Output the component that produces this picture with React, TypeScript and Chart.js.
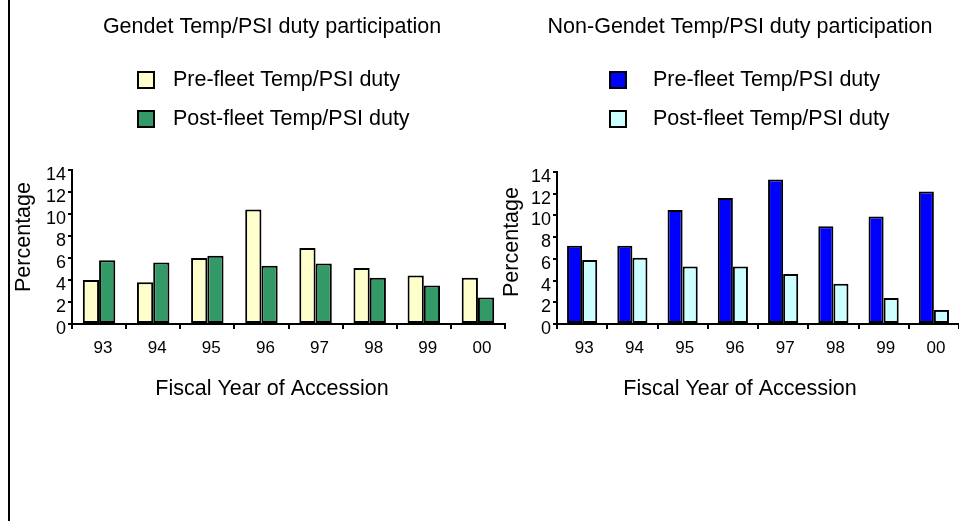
import React, { useEffect, useRef } from "react";
import { Chart, registerables } from "chart.js";

Chart.register(...registerables);

const categories = ["93", "94", "95", "96", "97", "98", "99", "00"];
const gendetPre = [4.0, 3.8, 6.0, 10.4, 6.9, 5.1, 4.4, 4.2];
const gendetPost = [5.8, 5.6, 6.2, 5.3, 5.5, 4.2, 3.5, 2.4];
const nonGendetPre = [7.2, 7.2, 10.5, 11.6, 13.3, 9.0, 9.9, 12.2];
const nonGendetPost = [5.9, 6.1, 5.3, 5.3, 4.6, 3.7, 2.4, 1.3];
const seriesLabels = ["Pre-fleet Temp/PSI duty", "Post-fleet Temp/PSI duty"];

const FONT = "'Liberation Sans', Arial, Helvetica, sans-serif";

const decorPlugin = {
  id: "decor",
  afterDraw(chart: any, _args: any, opts: any) {
    const ctx = chart.ctx;
    ctx.save();
    ctx.fillStyle = "#000";
    ctx.font = `${opts.fontSize}px ${FONT}`;
    ctx.textBaseline = "middle";
    ctx.textAlign = "center";
    ctx.fillText(opts.title, opts.titleX, opts.titleY);
    chart.data.datasets.forEach((ds: any, i: number) => {
      const y = opts.legendY[i];
      ctx.fillStyle = ds.backgroundColor;
      ctx.fillRect(opts.boxX, y - 8, 16, 16);
      ctx.lineWidth = 2;
      ctx.strokeStyle = "#000";
      ctx.strokeRect(opts.boxX, y - 8, 16, 16);
      ctx.fillStyle = "#000";
      ctx.textAlign = "left";
      ctx.fillText(ds.label, opts.textX, y);
    });
    ctx.textAlign = "center";
    ctx.fillText(opts.xTitle, opts.xTitleX, opts.xTitleY);
    ctx.translate(opts.yTitleX, opts.yTitleY);
    ctx.rotate(-Math.PI / 2);
    ctx.fillText(opts.yTitle, 0, 0);
    ctx.restore();
  },
};

function makeConfig(
  pre: number[],
  post: number[],
  colors: string[],
  layout: { yWidth: number; top: number; right: number; bottomH: number; xLabelShift: number },
  decor: any
): any {
  return {
    type: "bar",
    data: {
      labels: categories,
      datasets: [
        {
          label: seriesLabels[0],
          data: pre,
          backgroundColor: colors[0],
          borderColor: "#000",
          borderWidth: 2,
          borderSkipped: false,
          categoryPercentage: 0.6,
          barPercentage: 1.0,
        },
        {
          label: seriesLabels[1],
          data: post,
          backgroundColor: colors[1],
          borderColor: "#000",
          borderWidth: 2,
          borderSkipped: false,
          categoryPercentage: 0.6,
          barPercentage: 1.0,
        },
      ],
    },
    options: {
      responsive: false,
      animation: false,
      layout: { padding: { top: layout.top, right: layout.right, left: 0, bottom: 0 } },
      plugins: {
        legend: { display: false },
        title: { display: false },
        tooltip: { enabled: false },
        decor,
      },
      scales: {
        x: {
          afterFit: (axis: any) => {
            axis.height = layout.bottomH;
          },
          border: { display: true, color: "#000", width: 2 },
          grid: {
            display: true,
            drawOnChartArea: false,
            drawTicks: true,
            tickLength: 5,
            color: "#000",
            lineWidth: 2,
            offset: true,
          },
          ticks: {
            color: "#000",
            font: { family: FONT, size: 17 },
            padding: 9,
            maxRotation: 0,
            autoSkip: false,
            labelOffset: layout.xLabelShift,
          },
        },
        y: {
          min: 0,
          max: 14,
          afterFit: (axis: any) => {
            axis.width = layout.yWidth;
          },
          border: { display: true, color: "#000", width: 2 },
          grid: {
            display: true,
            drawOnChartArea: false,
            drawTicks: true,
            tickLength: 4,
            color: "#000",
            lineWidth: 2,
          },
          ticks: {
            stepSize: 2,
            autoSkip: false,
            color: "#000",
            font: { family: FONT, size: 18 },
            padding: 2,
            labelOffset: 5,
          },
        },
      },
    },
    plugins: [decorPlugin],
  };
}

function ChartCanvas({ config, width, height, left }: any) {
  const ref = useRef<HTMLCanvasElement | null>(null);
  useEffect(() => {
    if (!ref.current) return;
    const chart = new Chart(ref.current, config);
    return () => chart.destroy();
  }, []);
  return (
    <canvas
      ref={ref}
      width={width}
      height={height}
      style={{ position: "absolute", left, top: 0, width, height }}
    />
  );
}

export default function App() {
  const leftConfig = makeConfig(
    gendetPre,
    gendetPost,
    ["#FFFFCC", "#339966"],
    { yWidth: 72, top: 170, right: 540 - 505, bottomH: 521 - 324, xLabelShift: 4 },
    {
      fontSize: 21.5,
      title: "Gendet Temp/PSI duty participation",
      titleX: 272,
      titleY: 27,
      legendY: [80, 119],
      boxX: 138,
      textX: 173,
      xTitle: "Fiscal Year of Accession",
      xTitleX: 272,
      xTitleY: 389,
      yTitle: "Percentage",
      yTitleX: 24,
      yTitleY: 237,
    }
  );
  const rightConfig = makeConfig(
    nonGendetPre,
    nonGendetPost,
    ["#0000FF", "#CCFFFF"],
    { yWidth: 77, top: 172, right: 0, bottomH: 521 - 324, xLabelShift: 2 },
    {
      fontSize: 21.5,
      title: "Non-Gendet Temp/PSI duty participation",
      titleX: 260,
      titleY: 27,
      legendY: [80, 119],
      boxX: 130,
      textX: 173,
      xTitle: "Fiscal Year of Accession",
      xTitleX: 260,
      xTitleY: 389,
      yTitle: "Percentage",
      yTitleX: 32,
      yTitleY: 242,
    }
  );
  return (
    <div
      style={{
        position: "fixed",
        left: 0,
        top: 0,
        width: 959,
        height: 521,
        background: "#fff",
        overflow: "hidden",
      }}
    >
      <ChartCanvas config={leftConfig} width={540} height={521} left={0} />
      <ChartCanvas config={rightConfig} width={479} height={521} left={480} />
      <div
        style={{
          position: "absolute",
          left: 8,
          top: 0,
          width: 2,
          height: 521,
          background: "#000",
        }}
      />
    </div>
  );
}
